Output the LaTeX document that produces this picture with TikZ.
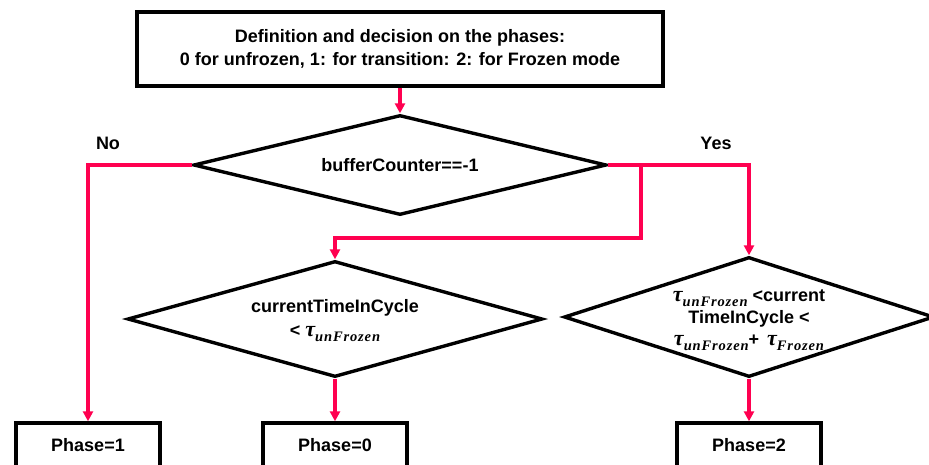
\documentclass[tikz,border=0pt]{standalone}
\usepackage{fontspec}
\setmainfont{Liberation Sans}
\newfontfamily\tauface{Liberation Serif}
\usetikzlibrary{shapes.geometric,arrows.meta}
\definecolor{flow}{RGB}{255,0,80}
\newcommand{\tausub}[1]{{\tauface\bfseries\itshape\fontsize{22}{22}\selectfont τ\raisebox{-5pt}{\fontsize{14.5}{14.5}\selectfont\addfontfeatures{LetterSpace=6} #1}}}
\begin{document}
\begin{tikzpicture}[x=1pt,y=-1pt,
  box/.style={draw=black, line width=3.4pt, fill=white, inner sep=0pt,
    font=\fontsize{18}{23}\selectfont\bfseries, align=center},
  decision/.style={diamond, draw=black, line width=3.4pt, inner sep=0pt, aspect=1},
  lbl/.style={font=\fontsize{18}{23}\selectfont\bfseries, align=center, inner sep=0pt},
  flowline/.style={draw=flow, line width=3.2pt},
  arr/.style={flowline, -{Triangle[length=10pt,width=10pt]}}]
\useasboundingbox (0,0) rectangle (929,464);

\node[box, minimum width=526pt, minimum height=74pt] (top) at (400,49)
  {Definition and decision on the phases:\\0 for unfrozen, 1: for transition: 2: for Frozen mode};

\node[decision, minimum width=413pt, minimum height=100pt] (d1) at (400,165) {};
\node[lbl] (d1t) at (400,165) {bufferCounter==-1};

\node[decision, minimum width=415pt, minimum height=116pt] (d2) at (335,319) {};
\node[lbl, font=\fontsize{18}{24}\selectfont\bfseries] (d2t) at (335,321)
  {currentTimeInCycle\\< \tausub{unFrozen}};

\node[decision, minimum width=370pt, minimum height=120pt] (d3) at (749,317) {};
\node[lbl, font=\fontsize{18}{22}\selectfont\bfseries] (d3t) at (749,320)
  {\tausub{unFrozen} <current\\TimeInCycle <\\\tausub{unFrozen}+ \,\tausub{Frozen}};

\node[box, minimum width=144pt, minimum height=44pt] (p1) at (88,445) {Phase=1};
\node[box, minimum width=144pt, minimum height=44pt] (p0) at (335,445) {Phase=0};
\node[box, minimum width=144pt, minimum height=44pt] (p2) at (749,445) {Phase=2};

\node[lbl] (no) at (108,143) {No};
\node[lbl] (yes) at (716,143) {Yes};

\coordinate (br) at (641,165);
\coordinate (bl) at (335,238);

\draw[arr] (top.south) -- (d1.north);
\draw[arr] (d1.west) -| (p1.north);
\draw[arr] (d1.east) -| (d3.north);
\draw[arr] (br) |- (bl) -- (d2.north);
\draw[arr] (d2.south) -- (p0.north);
\draw[arr] (d3.south) -- (p2.north);
\end{tikzpicture}
\end{document}
